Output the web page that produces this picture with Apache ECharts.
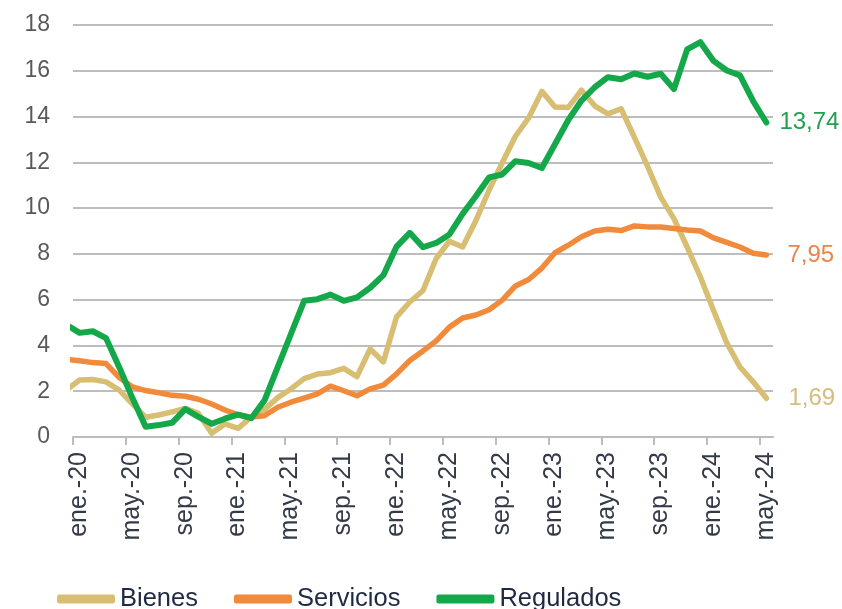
<!DOCTYPE html>
<html>
<head>
<meta charset="utf-8">
<script src="https://cdn.jsdelivr.net/npm/echarts@6/dist/echarts.min.js"></script>
<style>
  html, body { margin: 0; padding: 0; background: #fff; }
  #chart { width: 842px; height: 609px; }
</style>
</head>
<body>
<div id="chart"></div>
<script>
// months, first one (dic.-19) is cut by the axis start
const months = ['dic.-19',
  'ene.-20','feb.-20','mar.-20','abr.-20','may.-20','jun.-20','jul.-20','ago.-20','sep.-20','oct.-20','nov.-20','dic.-20',
  'ene.-21','feb.-21','mar.-21','abr.-21','may.-21','jun.-21','jul.-21','ago.-21','sep.-21','oct.-21','nov.-21','dic.-21',
  'ene.-22','feb.-22','mar.-22','abr.-22','may.-22','jun.-22','jul.-22','ago.-22','sep.-22','oct.-22','nov.-22','dic.-22',
  'ene.-23','feb.-23','mar.-23','abr.-23','may.-23','jun.-23','jul.-23','ago.-23','sep.-23','oct.-23','nov.-23','dic.-23',
  'ene.-24','feb.-24','mar.-24','abr.-24','may.-24'];

const bienes = [2.05,
  2.49, 2.51, 2.41, 2.05, 1.45, 0.86, 0.96, 1.10, 1.25, 1.03, 0.16, 0.57,
  0.38, 0.88, 1.20, 1.72, 2.10, 2.55, 2.75, 2.81, 3.00, 2.64, 3.85, 3.28,
  5.25, 5.90, 6.40, 7.80, 8.55, 8.30, 9.45, 10.78, 11.98, 13.14, 13.94, 15.10,
  14.42, 14.40, 15.15, 14.47, 14.12, 14.34, 13.10, 11.83, 10.48, 9.54, 8.30, 6.99,
  5.53, 4.11, 3.06, 2.41, 1.69];

const servicios = [3.39,
  3.33, 3.25, 3.21, 2.60, 2.19, 2.03, 1.93, 1.82, 1.78, 1.65, 1.44, 1.18,
  0.97, 0.87, 0.93, 1.30, 1.52, 1.70, 1.88, 2.22, 2.02, 1.80, 2.10, 2.27,
  2.76, 3.34, 3.76, 4.20, 4.80, 5.20, 5.33, 5.56, 5.98, 6.60, 6.88, 7.38,
  8.05, 8.38, 8.75, 9.00, 9.08, 9.02, 9.22, 9.18, 9.17, 9.11, 9.04, 9.00,
  8.70, 8.50, 8.30, 8.03, 7.95];

const regulados = [4.90,
  4.55, 4.62, 4.32, 3.05, 1.70, 0.45, 0.52, 0.62, 1.22, 0.88, 0.58, 0.80,
  0.98, 0.82, 1.60, 3.05, 4.50, 5.95, 6.02, 6.22, 5.95, 6.10, 6.52, 7.07,
  8.32, 8.92, 8.29, 8.48, 8.85, 9.75, 10.52, 11.34, 11.47, 12.05, 11.97, 11.75,
  12.80, 13.85, 14.70, 15.28, 15.72, 15.63, 15.88, 15.74, 15.87, 15.20, 16.93, 17.25,
  16.43, 16.01, 15.80, 14.67, 13.74];

const yTicks = [0, 2, 4, 6, 8, 10, 12, 14, 16, 18];

const colBienes = '#D8BE72';
const colServicios = '#F28A3B';
const colRegulados = '#14A84A';
const font = 'Liberation Sans, Arial, sans-serif';

// month i sits in the middle of its month slot (axis starts at ene.-20)
function toPoints(arr) {
  return arr.map((v, i) => [i - 0.5, v]);
}

function endLabel(color, dist) {
  return {
    show: true,
    distance: dist,
    color: color,
    fontSize: 24,
    fontFamily: font,
    formatter: p => String(p.value[1].toFixed(2)).replace('.', ',')
  };
}

const chart = echarts.init(document.getElementById('chart'), null, { renderer: 'canvas' });

chart.setOption({
  animation: false,
  backgroundColor: '#fff',
  grid: { left: 73, right: 69, top: 25, bottom: 172 },
  legend: {
    left: 57,
    top: 586,
    padding: 0,
    icon: 'roundRect',
    itemWidth: 58,
    itemHeight: 9,
    itemGap: 36,
    textStyle: { fontSize: 25.5, color: '#1f2942', fontFamily: font },
    data: ['Bienes', 'Servicios', 'Regulados']
  },
  xAxis: {
    type: 'value',
    min: 0,
    max: months.length - 1,
    interval: 4,
    splitLine: { show: false },
    axisLine: { show: true, lineStyle: { color: '#BDBDBD', width: 2 } },
    axisTick: { show: true, length: 8, lineStyle: { color: '#BDBDBD', width: 2 } },
    axisLabel: {
      rotate: 90,
      margin: 15,
      fontSize: 25,
      color: '#353a48',
      fontFamily: font,
      showMaxLabel: false,
      verticalAlign: 'top',
      lineHeight: 12,
      formatter: v => (v % 4 === 0 && v + 1 < months.length) ? months[v + 1] : ''
    }
  },
  yAxis: {
    type: 'value',
    min: yTicks[0],
    max: yTicks[yTicks.length - 1],
    interval: 2,
    axisLine: { show: false },
    axisTick: { show: false },
    splitLine: { lineStyle: { color: '#BDBDBD', width: 2 } },
    axisLabel: { margin: 23, fontSize: 23, color: '#595959', fontFamily: font }
  },
  series: [
    {
      name: 'Bienes', type: 'line', data: toPoints(bienes), showSymbol: false, symbol: 'none',
      clip: true,
      itemStyle: { color: colBienes },
      lineStyle: { color: colBienes, width: 5.5, cap: 'round', join: 'round' },
      endLabel: endLabel('#D4BE7C', 22)
    },
    {
      name: 'Servicios', type: 'line', data: toPoints(servicios), showSymbol: false, symbol: 'none',
      clip: true,
      itemStyle: { color: colServicios },
      lineStyle: { color: colServicios, width: 5.5, cap: 'round', join: 'round' },
      endLabel: endLabel('#E8864A', 21)
    },
    {
      name: 'Regulados', type: 'line', data: toPoints(regulados), showSymbol: false, symbol: 'none',
      clip: true,
      itemStyle: { color: colRegulados },
      lineStyle: { color: colRegulados, width: 6, cap: 'round', join: 'round' },
      endLabel: endLabel('#22A050', 13)
    }
  ]
});
</script>
</body>
</html>
